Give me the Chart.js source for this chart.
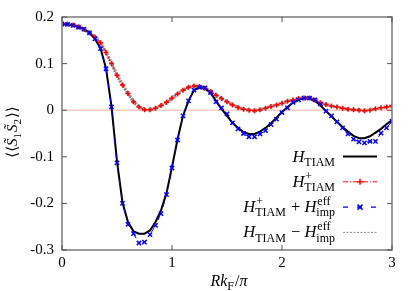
<!DOCTYPE html>
<html>
<head>
<meta charset="utf-8">
<script src="https://cdn.jsdelivr.net/npm/chart.js@4.4.1/dist/chart.umd.min.js"></script>
<style>
  body { margin: 0; background: #fff; }
  #wrap { width: 415px; height: 291px; }
</style>
</head>
<body>
<div id="wrap"><canvas id="myChart"></canvas></div>
<script>
// x grid (R kF / pi)
const xs = [0, 0.05, 0.1, 0.15, 0.2, 0.25, 0.3, 0.35, 0.4, 0.45, 0.5, 0.55, 0.6, 0.65, 0.7, 0.75, 0.8, 0.85, 0.9, 0.95,
  1, 1.05, 1.1, 1.15, 1.2, 1.25, 1.3, 1.35, 1.4, 1.45, 1.5, 1.55, 1.6, 1.65, 1.7, 1.75, 1.8, 1.85, 1.9, 1.95,
  2, 2.05, 2.1, 2.15, 2.2, 2.25, 2.3, 2.35, 2.4, 2.45, 2.5, 2.55, 2.6, 2.65, 2.7, 2.75, 2.8, 2.85, 2.9, 2.95, 3];

// H_TIAM (black solid)
const hTiam = [0.185, 0.184, 0.182, 0.179, 0.174, 0.166, 0.153, 0.133, 0.09, 0.008, -0.11, -0.198, -0.24, -0.26, -0.265, -0.265, -0.258, -0.24, -0.215, -0.178,
  -0.122, -0.063, -0.012, 0.02, 0.043, 0.049, 0.047, 0.037, 0.02, 0.003, -0.012, -0.027, -0.038, -0.047, -0.051, -0.051, -0.046, -0.038, -0.028, -0.016,
  -0.004, 0.007, 0.016, 0.022, 0.026, 0.025, 0.02, 0.01, -0.002, -0.013, -0.025, -0.036, -0.046, -0.055, -0.06, -0.06, -0.056, -0.048, -0.04, -0.03, -0.021];

// H+_TIAM (red dash-dot, plus marks)
const hTiamPlus = [0.185, 0.185, 0.183, 0.179, 0.173, 0.166, 0.157, 0.145, 0.124, 0.1, 0.075, 0.054, 0.036, 0.018, 0.007, 0.001, 0.001, 0.004, 0.01, 0.017,
  0.026, 0.035, 0.043, 0.049, 0.052, 0.051, 0.047, 0.04, 0.032, 0.025, 0.018, 0.011, 0.006, 0.002, 0.0, -0.001, 0.001, 0.004, 0.008, 0.011,
  0.015, 0.019, 0.022, 0.025, 0.026, 0.026, 0.022, 0.016, 0.012, 0.009, 0.007, 0.004, 0.002, 0.001, 0.0, -0.001, 0.0, 0.003, 0.005, 0.007, 0.009];

// H+_TIAM + H_imp^eff (blue crosses)
const hPlusEff = [0.185, 0.184, 0.182, 0.178, 0.174, 0.166, 0.153, 0.132, 0.089, 0.007, -0.113, -0.2, -0.245, -0.265, -0.285, -0.283, -0.267, -0.247, -0.222, -0.181,
  -0.124, -0.064, -0.012, 0.02, 0.043, 0.049, 0.048, 0.038, 0.018, 0.005, -0.008, -0.027, -0.04, -0.05, -0.057, -0.057, -0.051, -0.044, -0.031, -0.019,
  -0.005, 0.005, 0.017, 0.022, 0.026, 0.026, 0.022, 0.013, -0.002, -0.012, -0.025, -0.038, -0.051, -0.062, -0.068, -0.07, -0.067, -0.067, -0.049, -0.038, -0.024];

// H_TIAM - H_imp^eff (grey dotted)
const hMinusEff = [0.185, 0.185, 0.183, 0.179, 0.173, 0.166, 0.157, 0.145, 0.124, 0.1, 0.075, 0.054, 0.036, 0.018, 0.007, 0.001, 0.001, 0.004, 0.01, 0.017,
  0.026, 0.035, 0.043, 0.049, 0.052, 0.051, 0.047, 0.04, 0.032, 0.025, 0.018, 0.011, 0.006, 0.002, 0.0, -0.001, 0.001, 0.004, 0.008, 0.011,
  0.015, 0.019, 0.022, 0.025, 0.026, 0.026, 0.022, 0.016, 0.012, 0.009, 0.007, 0.004, 0.002, 0.001, 0.0, -0.001, 0.0, 0.003, 0.005, 0.007, 0.009];

// zero reference line
const zeroX = [0, 3];
const zeroY = [0, 0];

const xTicks = [0, 1, 2, 3];
const yTicks = [-0.3, -0.2, -0.1, 0, 0.1, 0.2];

const SERIF = '"Liberation Serif", "DejaVu Serif", serif';

function pts(xv, yv) {
  return xv.map((x, i) => ({ x: x, y: yv[i] }));
}

//math-ish text: parts of {t, i} or stacked {sup, sub}
function mathWidth(ctx, parts, size) {
  let w = 0;
  parts.forEach((p) => {
    if (p.t !== undefined) {
      ctx.font = (p.i ? "italic " : "") + size + "px " + SERIF;
      w += ctx.measureText(p.t).width;
    } else {
      ctx.font = Math.round(size * 0.74) + "px " + SERIF;
      const a = p.sup ? ctx.measureText(p.sup).width : 0;
      const b = p.sub ? ctx.measureText(p.sub).width : 0;
      w += Math.max(a, b) + 1;
    }
  });
  return w;
}

function drawMath(ctx, parts, x, y, size, align) {
  const w = mathWidth(ctx, parts, size);
  let cx = align === "right" ? x - w : align === "center" ? x - w / 2 : x;
  ctx.textAlign = "left";
  ctx.textBaseline = "alphabetic";
  ctx.fillStyle = "#000";
  parts.forEach((p) => {
    if (p.t !== undefined) {
      ctx.font = (p.i ? "italic " : "") + size + "px " + SERIF;
      ctx.fillText(p.t, cx, y);
      cx += ctx.measureText(p.t).width;
    } else {
      ctx.font = Math.round(size * 0.74) + "px " + SERIF;
      let a = 0, b = 0;
      if (p.sup) { ctx.fillText(p.sup, cx + 1, y - size * 0.42); a = ctx.measureText(p.sup).width; }
      if (p.sub) { ctx.fillText(p.sub, cx, y + size * 0.25); b = ctx.measureText(p.sub).width; }
      cx += Math.max(a, b) + 1;
    }
  });
}

const legendRows = [
  { parts: [{ t: "H", i: 1 }, { sub: "TIAM" }], color: "#000", dash: [], width: 2, mark: null },
  { parts: [{ t: "H", i: 1 }, { sup: "+", sub: "TIAM" }], color: "#ff0000", dash: [5, 2, 1, 2], width: 1, mark: "plus" },
  { parts: [{ t: "H", i: 1 }, { sup: "+", sub: "TIAM" }, { t: " + " }, { t: "H", i: 1 }, { sup: "eff", sub: "imp" }], color: "#0000ff", dash: [5, 9], width: 1.2, mark: "cross" },
  { parts: [{ t: "H", i: 1 }, { sub: "TIAM" }, { t: " \u2212 " }, { t: "H", i: 1 }, { sup: "eff", sub: "imp" }], color: "#888", dash: [2, 1.5], width: 1, mark: null },
];

//frame, inside ticks, axis titles and legend
const decorations = {
  id: "decorations",
  afterDraw(chart) {
    const { ctx, chartArea: a, scales } = chart;
    ctx.save();
    ctx.strokeStyle = "#7a7a7a";
    ctx.lineWidth = 1.5;
    ctx.strokeRect(a.left, a.top, a.right - a.left, a.bottom - a.top);
    ctx.lineWidth = 1;
    ctx.strokeStyle = "#555";
    ctx.beginPath();
    xTicks.forEach((v) => {
      const px = scales.x.getPixelForValue(v);
      ctx.moveTo(px, a.bottom); ctx.lineTo(px, a.bottom - 5);
      ctx.moveTo(px, a.top); ctx.lineTo(px, a.top + 5);
    });
    yTicks.forEach((v) => {
      const py = scales.y.getPixelForValue(v);
      ctx.moveTo(a.left, py); ctx.lineTo(a.left + 5, py);
      ctx.moveTo(a.right, py); ctx.lineTo(a.right - 5, py);
    });
    ctx.stroke();

    // x title
    drawMath(ctx, [{ t: "Rk", i: 1 }, { sub: "F" }, { t: "/" }, { t: "\u03c0", i: 1 }],
      (a.left + a.right) / 2 + 2, 286, 16, "center");

    // y title
    ctx.save();
    ctx.translate(17, 132);
    ctx.rotate(-Math.PI / 2);
    drawMath(ctx, [{ t: "\u27e8\u27e8" }, { t: "S\u0303", i: 1 }, { sub: "1" }, { t: "S\u0303", i: 1 }, { sub: "2" }, { t: "\u27e9\u27e9" }],
      0, 0, 15, "center");
    ctx.restore();

    // legend
    legendRows.forEach((r, k) => {
      const base = 161.5 + k * 25.3;
      drawMath(ctx, r.parts, 336, base, 16.5, "right");
      const ly = base - 5;
      ctx.strokeStyle = r.color;
      ctx.lineWidth = r.width;
      ctx.setLineDash(r.dash);
      ctx.beginPath();
      ctx.moveTo(343, ly); ctx.lineTo(377, ly);
      ctx.stroke();
      ctx.setLineDash([]);
      ctx.lineWidth = 1.5;
      ctx.beginPath();
      if (r.mark === "plus") {
        ctx.moveTo(357, ly); ctx.lineTo(363, ly);
        ctx.moveTo(360, ly - 3); ctx.lineTo(360, ly + 3);
      } else if (r.mark === "cross") {
        ctx.moveTo(357.5, ly - 2.5); ctx.lineTo(362.5, ly + 2.5);
        ctx.moveTo(357.5, ly + 2.5); ctx.lineTo(362.5, ly - 2.5);
      }
      ctx.stroke();
    });
    ctx.restore();
  },
};

var ctx = document.getElementById("myChart").getContext("2d");

var chart = new Chart(ctx, {
  type: "line",
  data: {
    datasets: [
      {
        label: "H+TIAM + Heff imp",
        data: pts(xs, hPlusEff),
        borderColor: "#0000ff",
        backgroundColor: "#0000ff",
        borderWidth: 1,
        borderDash: [5, 9],
        pointStyle: "crossRot",
        pointRadius: 3,
        pointBorderWidth: 1.5,
        pointBorderColor: "#0000ff",
      },
      {
        label: "H+TIAM",
        data: pts(xs, hTiamPlus),
        borderColor: "#ff0000",
        backgroundColor: "#ff0000",
        borderWidth: 1,
        borderDash: [5, 2, 1, 2],
        pointStyle: "cross",
        pointRadius: 2.5,
        pointBorderWidth: 1.5,
        pointBorderColor: "#ff0000",
      },
      {
        label: "HTIAM",
        data: pts(xs, hTiam),
        borderColor: "#000",
        borderWidth: 2,
        pointRadius: 0,
      },
      {
        label: "HTIAM - Heff imp",
        data: pts(xs, hMinusEff),
        borderColor: "rgba(120,120,120,0.8)",
        borderWidth: 3.5,
        borderDash: [2, 1],
        pointRadius: 0,
      },
      {
        label: "zero",
        data: pts(zeroX, zeroY),
        borderColor: "#f7b9a3",
        borderWidth: 1,
        pointRadius: 0,
      },
    ],
  },
  options: {
    responsive: true,
    maintainAspectRatio: false,
    animation: false,
    layout: {
      padding: { top: 15, right: 23, left: 0, bottom: 0 },
    },
    elements: { line: { tension: 0 } },
    plugins: {
      legend: { display: false },
      tooltip: { enabled: false },
    },
    scales: {
      x: {
        type: "linear",
        min: 0,
        max: 3,
        grid: { display: false, drawTicks: false, tickLength: 0 },
        border: { display: false },
        afterFit(scale) { scale.height = 41; },
        afterBuildTicks(scale) { scale.ticks = xTicks.map((v) => ({ value: v })); },
        ticks: {
          padding: 4,
          color: "#000",
          font: { family: SERIF, size: 15 },
          maxRotation: 0,
          callback: (v) => String(v),
        },
      },
      y: {
        type: "linear",
        min: -0.3,
        max: 0.2,
        grid: { display: false, drawTicks: false, tickLength: 0 },
        border: { display: false },
        afterFit(scale) { scale.width = 62; },
        afterBuildTicks(scale) { scale.ticks = yTicks.map((v) => ({ value: v })); },
        ticks: {
          padding: 8,
          color: "#000",
          font: { family: SERIF, size: 15 },
          callback: (v) => (Math.abs(v) < 1e-9 ? "0" : (Math.round(v * 10) / 10).toFixed(1)),
        },
      },
    },
  },
  plugins: [decorations],
});
</script>
</body>
</html>
